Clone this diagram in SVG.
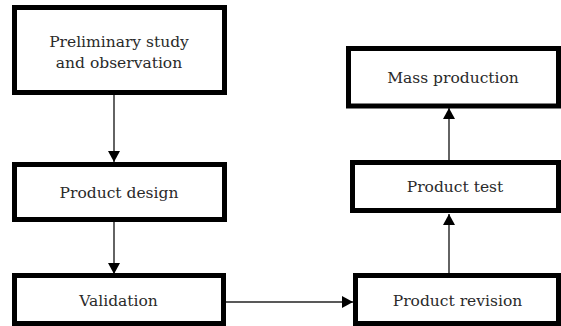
<svg xmlns="http://www.w3.org/2000/svg" width="561" height="326" viewBox="0 0 561 326">
<style>
.box{fill:#fff;stroke:#000;stroke-width:5}
.lbl{font-family:'DejaVu Serif',serif;font-size:15.5px;fill:#2a2a2a;text-anchor:middle}
.con{stroke:#222;stroke-width:1.4;fill:none;marker-end:url(#ah)}
</style>
<defs>
<marker id="ah" markerWidth="13" markerHeight="12" refX="11" refY="6" orient="auto" markerUnits="userSpaceOnUse">
<path d="M0,0 L11,6 L0,12 Z" fill="#000"/>
</marker>
</defs>
<rect width="561" height="326" fill="#fff"/>
<g id="connectors">
<line class="con" x1="114" y1="95" x2="114" y2="162"/>
<line class="con" x1="114" y1="222" x2="114" y2="274"/>
<line class="con" x1="226" y1="302" x2="353" y2="302"/>
<line class="con" x1="449" y1="273" x2="449" y2="214"/>
<line class="con" x1="449" y1="160" x2="449" y2="108"/>
</g>
<g id="n1">
<rect class="box" x="14.5" y="7.5" width="210" height="85"/>
<text class="lbl" x="119" y="47">Preliminary study</text>
<text class="lbl" x="119" y="68">and observation</text>
</g>
<g id="n2">
<rect class="box" x="14.5" y="164.5" width="210" height="55"/>
<text class="lbl" x="119" y="198">Product design</text>
</g>
<g id="n3">
<rect class="box" x="14.5" y="275.5" width="209" height="48"/>
<text class="lbl" x="118.5" y="306">Validation</text>
</g>
<g id="n4">
<rect class="box" x="348.5" y="48.5" width="210" height="57.5"/>
<text class="lbl" x="453" y="83">Mass production</text>
</g>
<g id="n5">
<rect class="box" x="352.5" y="162.5" width="206" height="48"/>
<text class="lbl" x="455" y="192">Product test</text>
</g>
<g id="n6">
<rect class="box" x="355.5" y="275.5" width="203" height="48"/>
<text class="lbl" x="457.5" y="306">Product revision</text>
</g>
</svg>
